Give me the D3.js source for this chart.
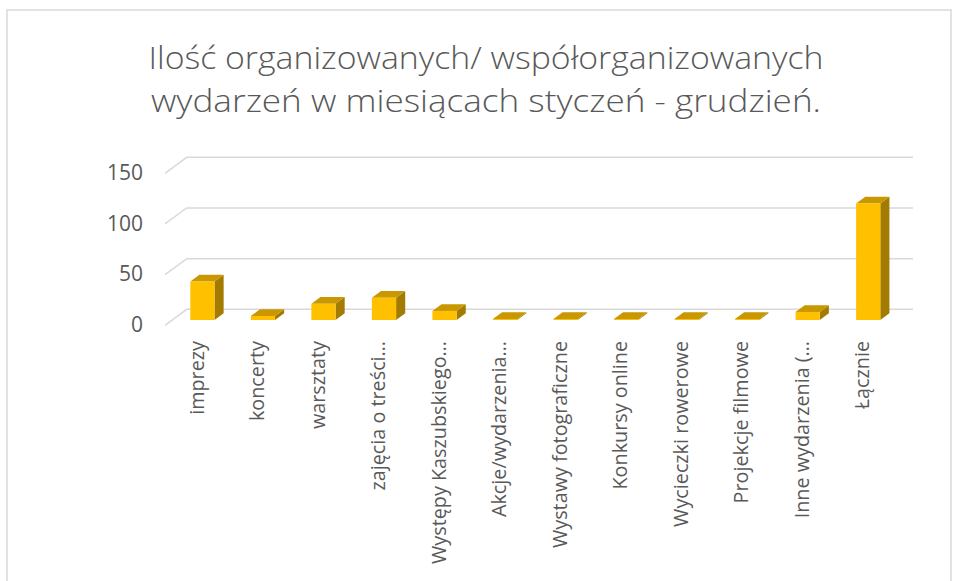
<!DOCTYPE html>
<html>
<head>
  <meta charset="UTF-8">
  <title>Ilość organizowanych wydarzeń</title>
  <script src="https://d3js.org/d3.v7.min.js"></script>
  <style>
    body { margin: 0; background: #fff; }
    svg { font-family: "Open Sans", sans-serif; }
  </style>
</head>
<body>
  <svg></svg>
  <script>
    const categories = [
      'imprezy', 'koncerty', 'warsztaty', 'zajęcia o treści…', 'Występy Kaszubskiego…',
      'Akcje/wydarzenia…', 'Wystawy fotograficzne', 'Konkursy online', 'Wycieczki rowerowe',
      'Projekcje filmowe', 'Inne wydarzenia (…', 'Łącznie'
    ];
    const values = [38, 4, 16, 22, 9, 1, 1, 1, 1, 1, 8, 115];
    const yTicks = [0, 50, 100, 150];
    const titleLines = ['Ilość organizowanych/ współorganizowanych', 'wydarzeń w miesiącach styczeń - grudzień.'];

    const W = 956, H = 581;
    const svg = d3.select('svg').attr('width', W).attr('height', H);

    // chart border
    svg.append('rect')
      .attr('x', 7).attr('y', 10).attr('width', 944).attr('height', 600)
      .attr('fill', '#fff').attr('stroke', '#d9d9d9').attr('stroke-width', 1.5);

    // back wall coordinates; depth moves things down-left
    const depthX = -21.7, depthY = 16;
    const x = d3.scaleBand()
      .domain(categories)
      .range([186.7, 913])
      .paddingInner(0.6)
      .paddingOuter(0.3);
    const y = d3.scaleLinear().domain([0, 150]).range([309.3, 157.3]);

    const proj = (px, v, f) => [px + f * depthX, y(v) + f * depthY];

    // gridlines: side wall diagonal + back wall
    svg.append('g').selectAll('path')
      .data(yTicks)
      .enter().append('path')
      .attr('d', d => {
        const a = proj(x.range()[0], d, 1), b = proj(x.range()[0], d, 0), c = proj(x.range()[1], d, 0);
        return `M${a}L${b}L${c}`;
      })
      .attr('fill', 'none')
      .attr('stroke', '#d9d9d9')
      .attr('stroke-width', 1.5);

    // y labels on the front plane
    svg.append('g').selectAll('text')
      .data(yTicks)
      .enter().append('text')
      .attr('x', 143)
      .attr('y', d => proj(0, d, 1)[1] + 1)
      .attr('text-anchor', 'end')
      .attr('dominant-baseline', 'middle')
      .attr('font-size', '21px')
      .attr('fill', '#595959')
      .text(d => d);

    // 3D bars
    const fFront = 0.67, fBack = 0.25;
    const bars = svg.append('g').selectAll('g')
      .data(categories.map((c, i) => ({ cat: c, val: values[i] })))
      .enter().append('g');

    const poly = pts => 'M' + pts.map(p => p.join(',')).join('L') + 'Z';

    bars.append('path') // right side
      .attr('d', d => {
        const xr = x(d.cat) + x.bandwidth();
        return poly([proj(xr, 0, fFront), proj(xr, d.val, fFront), proj(xr, d.val, fBack), proj(xr, 0, fBack)]);
      })
      .attr('fill', '#a37b00');

    bars.append('path') // top
      .attr('d', d => {
        const xl = x(d.cat), xr = xl + x.bandwidth();
        return poly([proj(xl, d.val, fFront), proj(xr, d.val, fFront), proj(xr, d.val, fBack), proj(xl, d.val, fBack)]);
      })
      .attr('fill', '#c99700');

    bars.append('path') // front
      .attr('d', d => {
        const xl = x(d.cat), xr = xl + x.bandwidth();
        return poly([proj(xl, 0, fFront), proj(xr, 0, fFront), proj(xr, d.val, fFront), proj(xl, d.val, fFront)]);
      })
      .attr('fill', '#ffc000');

    // category labels, rotated
    svg.append('g').selectAll('text')
      .data(categories)
      .enter().append('text')
      .attr('transform', d => `translate(${x(d) + x.bandwidth() / 2 + depthX + 3},341) rotate(-90)`)
      .attr('text-anchor', 'end')
      .attr('dominant-baseline', 'middle')
      .attr('font-size', '19.8px')
      .attr('fill', '#595959')
      .text(d => d);

    // title
    svg.append('g').selectAll('text')
      .data(titleLines)
      .enter().append('text')
      .attr('x', 486)
      .attr('y', (d, i) => 69 + i * 43)
      .attr('text-anchor', 'middle')
      .attr('font-size', '31.5px')
      .attr('font-weight', 300)
      .attr('fill', '#595959')
      .attr('textLength', (d, i) => i === 0 ? 675 : 670)
      .attr('lengthAdjust', 'spacingAndGlyphs')
      .text(d => d);
  </script>
</body>
</html>
